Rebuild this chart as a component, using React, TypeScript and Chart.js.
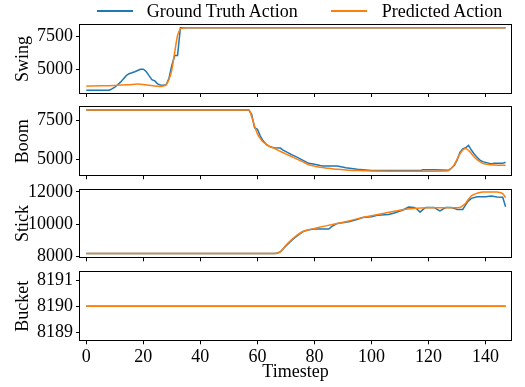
import React, { useEffect, useRef } from "react";
import { Chart, registerables } from "chart.js";

Chart.register(...registerables);

// ---------- data ----------
const seriesNames = ["Ground Truth Action", "Predicted Action"];
const panelLabels = ["Swing", "Boom", "Stick", "Bucket"];
const timestepTicks = [0, 20, 40, 60, 80, 100, 120, 140];

const swingTicks = [5000, 7500];
const boomTicks = [5000, 7500];
const stickTicks = [8000, 10000, 12000];
const bucketTicks = [8189, 8190, 8191];

const swingGtT = [0, 8, 9, 10, 11, 12, 13, 14, 15, 16, 17, 18, 19, 20, 21, 22, 23, 24, 25, 26, 27, 28, 29, 30, 31, 32, 33, 147];
const swingGtV = [3380, 3380, 3480, 3610, 3800, 4000, 4250, 4500, 4650, 4720, 4800, 4900, 5000, 5000, 4820, 4500, 4200, 4100, 3870, 3790, 3770, 3800, 4300, 5300, 6060, 6060, 8190, 8190];
const swingPrT = [0, 5, 10, 15, 18, 20, 22, 24, 26, 27, 28, 29, 30, 31, 32, 33, 34, 35, 147];
const swingPrV = [3710, 3720, 3750, 3810, 3850, 3820, 3760, 3700, 3670, 3700, 3820, 4200, 4950, 6300, 7600, 8100, 8180, 8190, 8190];

const boomGtT = [0, 57, 58, 59, 60, 61, 62, 63, 64, 65, 66, 68, 69, 72, 74, 76, 78, 80, 82, 83, 88, 91, 95, 98, 100, 117, 118, 122, 127, 128, 129, 130, 131, 132, 133, 134, 135, 136, 137, 138, 139, 142, 143, 146, 147];
const boomGtV = [8190, 8190, 7900, 7050, 6950, 6500, 6200, 5980, 5850, 5780, 5750, 5730, 5600, 5300, 5130, 4930, 4740, 4680, 4600, 4570, 4570, 4460, 4350, 4310, 4280, 4270, 4330, 4320, 4290, 4440, 4600, 4950, 5450, 5680, 5750, 5900, 5600, 5350, 5130, 4950, 4850, 4700, 4740, 4740, 4810];
const boomPrT = [0, 57, 58, 59, 60, 61, 62, 63, 64, 66, 68, 70, 72, 74, 76, 78, 80, 82, 85, 88, 92, 95, 100, 110, 120, 126, 127, 128, 129, 130, 131, 132, 133, 134, 135, 136, 137, 138, 139, 141, 143, 147];
const boomPrV = [8190, 8190, 7750, 7150, 6650, 6350, 6120, 5980, 5860, 5700, 5520, 5340, 5180, 5000, 4830, 4650, 4560, 4480, 4420, 4350, 4300, 4270, 4240, 4230, 4230, 4240, 4280, 4400, 4650, 5000, 5350, 5600, 5700, 5580, 5380, 5150, 4980, 4850, 4750, 4660, 4630, 4610];

const stickGtT = [0, 66, 67, 68, 70, 72, 73, 74, 76, 78, 80, 85, 86, 88, 92, 94, 97, 100, 102, 106, 108, 111, 113, 115, 116, 117, 118, 119, 122, 123, 124, 126, 128, 129, 130, 132, 133, 134, 135, 137, 140, 142, 144, 146, 147];
const stickGtV = [8190, 8190, 8220, 8290, 8650, 9000, 9150, 9300, 9550, 9660, 9700, 9700, 9850, 10050, 10150, 10250, 10420, 10460, 10560, 10610, 10700, 10880, 11060, 11040, 10930, 10750, 10900, 11040, 11040, 10920, 10820, 11030, 11030, 10980, 10920, 10920, 11200, 11450, 11600, 11700, 11700, 11740, 11690, 11670, 11080];
const stickPrT = [0, 66, 67, 68, 70, 72, 74, 76, 78, 80, 84, 88, 92, 96, 100, 104, 108, 112, 116, 120, 124, 128, 131, 132, 133, 134, 135, 137, 139, 141, 143, 144, 146, 147];
const stickPrV = [8190, 8190, 8210, 8290, 8700, 9050, 9350, 9550, 9660, 9740, 9900, 10050, 10200, 10380, 10520, 10660, 10800, 10930, 10990, 11020, 11020, 11020, 11040, 11150, 11300, 11550, 11750, 11920, 11990, 12000, 12000, 11990, 11900, 11650];

const bucketGtT = [0, 147];
const bucketGtV = [8190, 8190];
const bucketPrT = [0, 147];
const bucketPrV = [8190, 8190];

// ---------- layout / style ----------
const W = 525;
const H = 387;
const FONT_FAMILY = "'Liberation Serif', 'Times New Roman', Times, serif";
const BLUE = "#1f77b4";
const ORANGE = "#ff7f0e";
const PLOT_LEFT = 80;
const PLOT_RIGHT = 511;

const panels = [
  { label: panelLabels[0], gt: [swingGtT, swingGtV], pr: [swingPrT, swingPrV], ticks: swingTicks, min: 3166, max: 8405, top: 25, bottom: 93 },
  { label: panelLabels[1], gt: [boomGtT, boomGtV], pr: [boomPrT, boomPrV], ticks: boomTicks, min: 3966, max: 8366, top: 107.3, bottom: 175.3 },
  { label: panelLabels[2], gt: [stickGtT, stickGtV], pr: [stickPrT, stickPrV], ticks: stickTicks, min: 7957, max: 12149, top: 189.5, bottom: 257.3 },
  { label: panelLabels[3], gt: [bucketGtT, bucketGtV], pr: [bucketPrT, bucketPrV], ticks: bucketTicks, min: 8188.7, max: 8191.3, top: 272.2, bottom: 340.3 },
];

const toPoints = (t: number[], v: number[]) => t.map((x, i) => ({ x, y: v[i] }));

const framePlugin = {
  id: "frame",
  afterDatasetsDraw(chart: any) {
    const { ctx, chartArea } = chart;
    const l = Math.round(chartArea.left) - 0.5;
    const t = Math.round(chartArea.top) - 0.5;
    const r = Math.round(chartArea.right) + 0.5;
    const b = Math.round(chartArea.bottom) + 0.5;
    ctx.save();
    ctx.strokeStyle = "#000";
    ctx.lineWidth = 1;
    ctx.strokeRect(l, t, r - l, b - t);
    ctx.restore();
  },
};

export default function App() {
  const refs = [useRef<HTMLCanvasElement>(null), useRef<HTMLCanvasElement>(null), useRef<HTMLCanvasElement>(null), useRef<HTMLCanvasElement>(null)];

  useEffect(() => {
    const font = { family: FONT_FAMILY, size: 18 };
    const charts = panels.map((p, i) => {
      const isLast = i === panels.length - 1;
      const canvas = refs[i].current as HTMLCanvasElement;
      return new Chart(canvas, {
        type: "line",
        data: {
          datasets: [
            {
              label: seriesNames[0],
              data: toPoints(p.gt[0], p.gt[1]),
              borderColor: BLUE,
              backgroundColor: BLUE,
              borderWidth: 1.5,
              pointRadius: 0,
              tension: 0,
              order: 1,
            },
            {
              label: seriesNames[1],
              data: toPoints(p.pr[0], p.pr[1]),
              borderColor: ORANGE,
              backgroundColor: ORANGE,
              borderWidth: 1.5,
              pointRadius: 0,
              cubicInterpolationMode: "monotone",
              order: 0,
            },
          ],
        },
        options: {
          animation: false,
          responsive: false,
          events: [],
          layout: { padding: { top: p.top, left: 0, right: W - PLOT_RIGHT, bottom: 0 } },
          plugins: { legend: { display: false }, tooltip: { enabled: false } },
          scales: {
            x: {
              type: "linear",
              min: -2.2,
              max: 148.9,
              afterBuildTicks: (s: any) => {
                s.ticks = timestepTicks.map((v) => ({ value: v }));
              },
              afterFit: (s: any) => {
                s.height = H - p.bottom;
              },
              grid: { drawOnChartArea: false, drawTicks: true, tickLength: 4, color: "#000", tickColor: "#000", lineWidth: 1 },
              border: { display: false },
              ticks: { display: isLast, font, color: "#000", padding: 2, maxRotation: 0, autoSkip: false, callback: (v: any) => String(v) },
              title: { display: isLast, text: "Timestep", font, color: "#000", padding: { top: 0, bottom: 4 } },
            },
            y: {
              type: "linear",
              min: p.min,
              max: p.max,
              afterBuildTicks: (s: any) => {
                s.ticks = p.ticks.map((v) => ({ value: v }));
              },
              afterFit: (s: any) => {
                s.width = PLOT_LEFT;
              },
              grid: { drawOnChartArea: false, drawTicks: true, tickLength: 4, color: "#000", tickColor: "#000", lineWidth: 1 },
              border: { display: false },
              ticks: { font, color: "#000", padding: 3, callback: (v: any) => String(v) },
              title: { display: true, text: p.label, font, color: "#000", padding: { top: 12.7, bottom: 0 } },
            },
          },
        },
        plugins: [framePlugin],
      } as any);
    });
    return () => charts.forEach((c) => c.destroy());
  }, []);

  const legendText: React.CSSProperties = {
    position: "absolute",
    fontFamily: FONT_FAMILY,
    fontSize: 18,
    lineHeight: "18px",
    whiteSpace: "nowrap",
    color: "#000",
  };

  return (
    <div style={{ position: "fixed", left: 0, top: 0, width: W, height: H, background: "#fff", overflow: "hidden" }}>
      {panels.map((p, i) => (
        <canvas key={p.label} ref={refs[i]} width={W} height={H} style={{ position: "absolute", left: 0, top: 0, width: W, height: H }} />
      ))}
      <div style={{ position: "absolute", left: 97, top: 10, width: 36, height: 2, background: BLUE }} />
      <span style={{ ...legendText, left: 146.7, top: 2.2 }}>{seriesNames[0]}</span>
      <div style={{ position: "absolute", left: 331, top: 10, width: 36, height: 2, background: ORANGE }} />
      <span style={{ ...legendText, left: 381.7, top: 2.2 }}>{seriesNames[1]}</span>
    </div>
  );
}
